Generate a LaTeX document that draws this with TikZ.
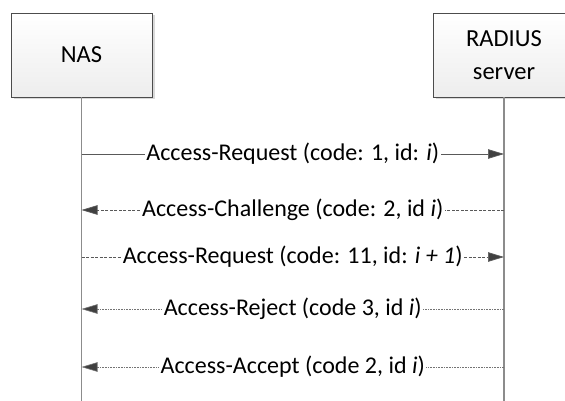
\documentclass[tikz,border=0pt]{standalone}
\usepackage{fontspec}
\setmainfont{Carlito}
\usetikzlibrary{arrows.meta,shadows}
\begin{document}
\begin{tikzpicture}[x=1pt,y=-1pt,
  actor/.style={draw=black!70, line width=0.8pt, top color=white, bottom color=black!7,
    minimum width=141pt, minimum height=84pt, align=center, inner sep=0pt,
    font=\fontsize{24.5}{33}\selectfont,
    drop shadow={shadow xshift=2.5pt, shadow yshift=-2.5pt, fill=black!25, opacity=0.6}},
  life/.style={draw=black!45, line width=1.3pt},
  msg/.style={draw=black!65, line width=0.7pt, -{Triangle[length=16pt,width=9.5pt,fill=black!75]}},
  dashmsg/.style={msg, dash pattern=on 3pt off 1.5pt},
  dotmsg/.style={msg, draw=black!55, line width=0.6pt, dash pattern=on 0.8pt off 0.8pt},
  lbl/.style={fill=white, inner xsep=1.5pt, inner ysep=1pt, text=black, font=\fontsize{24}{28}\selectfont}]
\useasboundingbox (0,0) rectangle (565,401);
\node[actor] (nas) at (81.5,55) {NAS};
\node[actor, minimum width=142pt] (rad) at (504,55) {RADIUS\\server};
\coordinate (nasend) at (81.5,401);
\coordinate (radend) at (504,401);
\draw[life] (nas.south) -- (nasend);
\draw[life] (rad.south) -- (radend);
\coordinate (n1) at (81.5,154); \coordinate (r1) at (504,154);
\coordinate (n2) at (81.5,210); \coordinate (r2) at (504,210);
\coordinate (n3) at (81.5,257); \coordinate (r3) at (504,257);
\coordinate (n4) at (81.5,309); \coordinate (r4) at (504,309);
\coordinate (n5) at (81.5,367); \coordinate (r5) at (504,367);
\draw[msg] (n1) -- node[lbl] (l1) {Access-Request (code: 1, id: \textit{i})} (r1);
\draw[dashmsg] (r2) -- node[lbl] (l2) {Access-Challenge (code: 2, id \textit{i})} (n2);
\draw[dashmsg] (n3) -- node[lbl] (l3) {Access-Request (code: 11, id: \textit{i + 1})} (r3);
\draw[dotmsg] (r4) -- node[lbl] (l4) {Access-Reject (code 3, id \textit{i})} (n4);
\draw[dotmsg] (r5) -- node[lbl] (l5) {Access-Accept (code 2, id \textit{i})} (n5);
\end{tikzpicture}
\end{document}
